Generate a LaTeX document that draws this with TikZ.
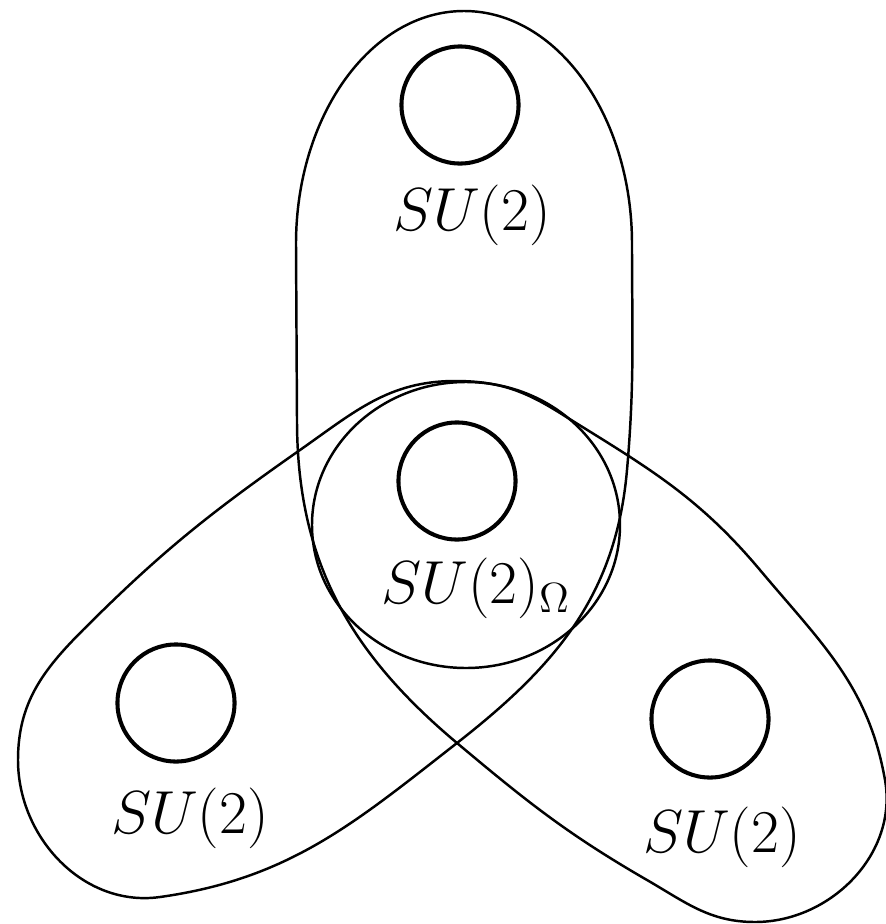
\documentclass[tikz,border=0pt]{standalone}
\usepackage{amsmath,amssymb}
\usepackage{tikz}
\usetikzlibrary{positioning,calc}

\begin{document}
\begin{tikzpicture}[
  x=0.01cm,y=0.01cm,
  su/.style={draw,circle,line width=1.15pt,minimum size=1.17cm,inner sep=0pt},
  lbl/.style={font=\LARGE,inner sep=0pt},
  rim/.style={line width=0.7pt},
]
  \useasboundingbox (0,0) rectangle (886,-924);

  % the four SU(2) factors
  \node[su] (Top)   at (460,-105) {};
  \node[su] (Mid)   at (457,-481) {};
  \node[su] (Left)  at (176,-703) {};
  \node[su] (Right) at (710,-719) {};

  \node[lbl] (TopL)   at (472,-215) {$SU(2)$};
  \node[lbl] (MidL)   at (476,-588) {$SU(2)_{\Omega}$};
  \node[lbl] (LeftL)  at (190,-818) {$SU(2)$};
  \node[lbl] (RightL) at (722,-837) {$SU(2)$};

  % central oval
  \draw[rim] (466,-525) ellipse [x radius=154, y radius=143];

  % one closed curve: top loop and the two lower lobes
  \draw[rim] (296,-244) -- (297,-420)
    to[out=-90,in=140] (457,-743)
    to[out=-40,in=150] (647,-880)
    to[out=-30,in=180] (755,-922)
    to[out=0,in=-80]   (885,-780)
    to[out=100,in=-50] (760,-570)
    to[out=130,in=-32] (560,-413)
    to[out=148,in=0]   (455,-381)
    to[out=180,in=35]  (300,-450)
    to[out=215,in=45]  (83,-630)
    to[out=225,in=90]  (18,-760)
    to[out=-90,in=188] (160,-897)
    to[out=8,in=218]   (457,-743)
    to[out=38,in=-95]  (627,-470)
    to[out=85,in=-90]  (632,-244)
    arc[start angle=0,end angle=180,x radius=168,y radius=233]
    -- cycle;
\end{tikzpicture}
\end{document}
